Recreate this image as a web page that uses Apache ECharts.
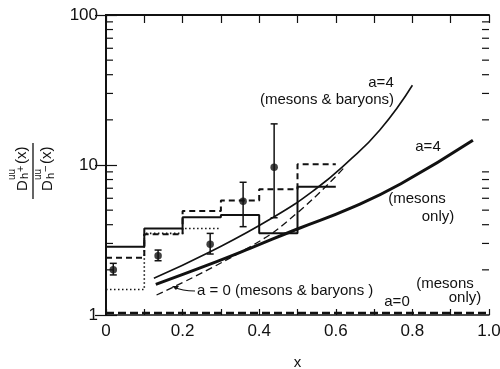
<!DOCTYPE html>
<html>
<head>
<meta charset="utf-8">
<script src="https://cdn.jsdelivr.net/npm/echarts@6/dist/echarts.min.js"></script>
<style>
  html, body { margin: 0; padding: 0; background: #fff; }
  #chart { width: 500px; height: 369px; }
</style>
</head>
<body>
<div id="chart"></div>
<script>
// histogram bins (x edges) and heights
const binEdges = [0, 0.1, 0.2, 0.3, 0.4, 0.5, 0.6]
const solidHist = [2.85, 3.78, 4.48, 4.64, 3.51, 7.17]
const dashedHist = [2.41, 3.45, 4.94, 5.8, 6.9, 10.1]
const dottedHist = [1.48, 3.5, 3.77]

// measured points with error bars
const pointX = [0.019, 0.136, 0.272, 0.358, 0.439]
const pointY = [2.0, 2.48, 2.96, 5.73, 9.65]
const errLow = [1.85, 2.3, 2.55, 3.88, 4.45]
const errHigh = [2.21, 2.71, 3.5, 7.67, 18.8]

// model curves
const a4AllX = [0.125, 0.272, 0.437, 0.55, 0.628, 0.715, 0.8]
const a4AllY = [1.76, 2.64, 4.48, 7.0, 10.3, 17.1, 34]
const a4MesX = [0.13, 0.289, 0.376, 0.498, 0.637, 0.77, 0.958]
const a4MesY = [1.6, 2.27, 2.78, 3.73, 5.14, 7.5, 14.6]
const a0AllX = [0.132, 0.376, 0.498, 0.624]
const a0AllY = [1.36, 2.85, 4.76, 9.75]
const a0MesX = [0, 1]
const a0MesY = [1.03, 1.03]

// log minor ticks
const minorTicks = [2, 3, 4, 5, 6, 7, 8, 9, 20, 30, 40, 50, 60, 70, 80, 90]

const FONT = 'Liberation Sans'
const INK = '#111'

const pairs = (xs, ys) => xs.map((x, i) => [x, ys[i]])
const hist = (vals) => vals.map((v, i) => [binEdges[i], v]).concat([[binEdges[vals.length], vals[vals.length - 1]]])

const chart = echarts.init(document.getElementById('chart'))

const lineBase = {type: 'line', symbol: 'none', silent: true, animation: false}

const option = {
  animation: false,
  grid: {left: 106, right: 11, top: 15, bottom: 54, containLabel: false, outerBoundsMode: 'none'},
  xAxis: [
    {
      type: 'value', min: 0, max: 1, interval: 0.1, position: 'bottom',
      name: 'x', nameLocation: 'middle', nameGap: 40,
      nameTextStyle: {fontFamily: FONT, fontSize: 15, color: INK},
      axisLine: {lineStyle: {color: INK, width: 1.5}},
      axisTick: {inside: true, length: 6, lineStyle: {color: INK, width: 1.2}},
      splitLine: {show: false},
      axisLabel: {
        fontFamily: FONT, fontSize: 17, color: INK, margin: 8,
        formatter(v) {
          const k = Math.round(v * 10)
          if (k % 2) return ''
          if (k === 0) return '0'
          return (k / 10).toFixed(1)
        }
      }
    },
    {
      type: 'value', min: 0, max: 1, interval: 0.1, position: 'top',
      axisLine: {lineStyle: {color: INK, width: 2}},
      axisTick: {inside: true, length: 8, lineStyle: {color: INK, width: 1.2}},
      axisLabel: {show: false},
      splitLine: {show: false}
    }
  ],
  yAxis: [
    {
      type: 'log', logBase: 10, min: 1, max: 100, position: 'left',
      axisLine: {show: true, lineStyle: {color: INK, width: 2}},
      axisTick: {inside: true, length: 11, lineStyle: {color: INK, width: 1.2}},
      splitLine: {show: false},
      axisLabel: {fontFamily: FONT, fontSize: 17, color: INK, margin: 8, formatter: (v) => String(Math.round(v))}
    },
    {
      type: 'log', logBase: 10, min: 1, max: 100, position: 'right',
      axisLine: {show: true, lineStyle: {color: INK, width: 2}},
      axisTick: {inside: true, length: 11, lineStyle: {color: INK, width: 1.2}},
      splitLine: {show: false},
      axisLabel: {show: false}
    }
  ],
  series: [
    {
      type: 'custom', silent: true, animation: false,
      data: minorTicks.map((v) => [0, v]),
      encode: {x: 0, y: 1},
      renderItem(params, api) {
        const l = api.coord([0, api.value(1)])
        const r = api.coord([1, api.value(1)])
        const st = {stroke: INK, lineWidth: 1.2}
        return {type: 'group', children: [
          {type: 'line', shape: {x1: l[0], y1: l[1], x2: l[0] + 7, y2: l[1]}, style: st},
          {type: 'line', shape: {x1: r[0] - 7, y1: r[1], x2: r[0], y2: r[1]}, style: st}
        ]}
      }
    },
    {...lineBase, step: 'end', data: hist(solidHist), lineStyle: {color: INK, width: 2}},
    {...lineBase, step: 'end', data: hist(dashedHist), lineStyle: {color: INK, width: 2, type: [6, 4]}},
    {...lineBase, step: 'end', data: hist(dottedHist), lineStyle: {color: INK, width: 1.6, type: [1.5, 2.5]}},
    {...lineBase, smooth: true, data: pairs(a4AllX, a4AllY), lineStyle: {color: INK, width: 1.6}},
    {...lineBase, smooth: true, data: pairs(a4MesX, a4MesY), lineStyle: {color: INK, width: 3}},
    {...lineBase, smooth: true, data: pairs(a0AllX, a0AllY), lineStyle: {color: INK, width: 1.3, type: [7, 4]}},
    {...lineBase, data: pairs(a0MesX, a0MesY), lineStyle: {color: INK, width: 2.6, type: [8, 4]}},
    {
      type: 'custom', silent: true, animation: false,
      data: pointX.map((x, i) => [x, errLow[i], errHigh[i]]),
      encode: {x: 0, y: [1, 2]},
      renderItem(params, api) {
        const lo = api.coord([api.value(0), api.value(1)])
        const hi = api.coord([api.value(0), api.value(2)])
        const st = {stroke: INK, lineWidth: 1.5}
        return {type: 'group', children: [
          {type: 'line', shape: {x1: lo[0], y1: lo[1], x2: hi[0], y2: hi[1]}, style: st},
          {type: 'line', shape: {x1: lo[0] - 3.5, y1: lo[1], x2: lo[0] + 3.5, y2: lo[1]}, style: st},
          {type: 'line', shape: {x1: hi[0] - 3.5, y1: hi[1], x2: hi[0] + 3.5, y2: hi[1]}, style: st}
        ]}
      }
    },
    {
      type: 'scatter', silent: true, animation: false,
      data: pairs(pointX, pointY), symbol: 'circle', symbolSize: 7.5,
      itemStyle: {color: INK}
    }
  ],
  graphic: [
    // y axis title: D^uu_h+(x) / D^uu_h-(x), rotated
    {
      type: 'group', x: 33, y: 171, rotation: Math.PI / 2,
      children: [
        {type: 'line', shape: {x1: -28, y1: 0, x2: 28, y2: 0}, style: {stroke: INK, lineWidth: 1.3}},
        {type: 'text', x: -20, y: -10, style: {text: 'D', font: '15px ' + FONT, fill: INK, verticalAlign: 'middle'}},
        {type: 'text', x: -9, y: -21, style: {text: 'uu', font: '10px ' + FONT, fill: INK, verticalAlign: 'middle'}},
        {type: 'text', x: -8, y: -8, style: {text: 'h', font: '11px ' + FONT, fill: INK, verticalAlign: 'middle'}},
        {type: 'text', x: -1, y: -12, style: {text: '+', font: '11px ' + FONT, fill: INK, verticalAlign: 'middle'}},
        {type: 'text', x: 7, y: -11, style: {text: '(x)', font: '15px ' + FONT, fill: INK, verticalAlign: 'middle'}},
        {type: 'text', x: -20, y: 15, style: {text: 'D', font: '15px ' + FONT, fill: INK, verticalAlign: 'middle'}},
        {type: 'text', x: -9, y: 5, style: {text: 'uu', font: '10px ' + FONT, fill: INK, verticalAlign: 'middle'}},
        {type: 'text', x: -8, y: 18, style: {text: 'h', font: '11px ' + FONT, fill: INK, verticalAlign: 'middle'}},
        {type: 'text', x: -1, y: 13, style: {text: '\u2212', font: '11px ' + FONT, fill: INK, verticalAlign: 'middle'}},
        {type: 'text', x: 7, y: 14, style: {text: '(x)', font: '15px ' + FONT, fill: INK, verticalAlign: 'middle'}}
      ]
    },
    {type: 'text', x: 381, y: 83, style: {text: 'a=4', font: '15px ' + FONT, fill: INK, align: 'center', verticalAlign: 'middle'}},
    {type: 'text', x: 327, y: 100, style: {text: '(mesons & baryons)', font: '15px ' + FONT, fill: INK, align: 'center', verticalAlign: 'middle'}},
    {type: 'text', x: 428, y: 147, style: {text: 'a=4', font: '15px ' + FONT, fill: INK, align: 'center', verticalAlign: 'middle'}},
    {type: 'text', x: 417, y: 199, style: {text: '(mesons', font: '15px ' + FONT, fill: INK, align: 'center', verticalAlign: 'middle'}},
    {type: 'text', x: 438, y: 217, style: {text: 'only)', font: '15px ' + FONT, fill: INK, align: 'center', verticalAlign: 'middle'}},
    {type: 'text', x: 197, y: 291, style: {text: 'a = 0 (mesons & baryons )', font: '15px ' + FONT, fill: INK, align: 'left', verticalAlign: 'middle'}},
    {type: 'text', x: 397, y: 302, style: {text: 'a=0', font: '15px ' + FONT, fill: INK, align: 'center', verticalAlign: 'middle'}},
    {type: 'text', x: 445, y: 284, style: {text: '(mesons', font: '15px ' + FONT, fill: INK, align: 'center', verticalAlign: 'middle'}},
    {type: 'text', x: 465, y: 298, style: {text: 'only)', font: '15px ' + FONT, fill: INK, align: 'center', verticalAlign: 'middle'}},
    // arrow from label to the a=0 dashed curve
    {type: 'bezierCurve', shape: {x1: 195, y1: 291, x2: 174, y2: 287, cpx1: 182, cpy1: 291}, style: {stroke: INK, lineWidth: 1.2, fill: null}},
    {type: 'polygon', shape: {points: [[172, 286], [179, 286], [176, 290]]}, style: {fill: INK}}
  ]
}

chart.setOption(option)
</script>
</body>
</html>
